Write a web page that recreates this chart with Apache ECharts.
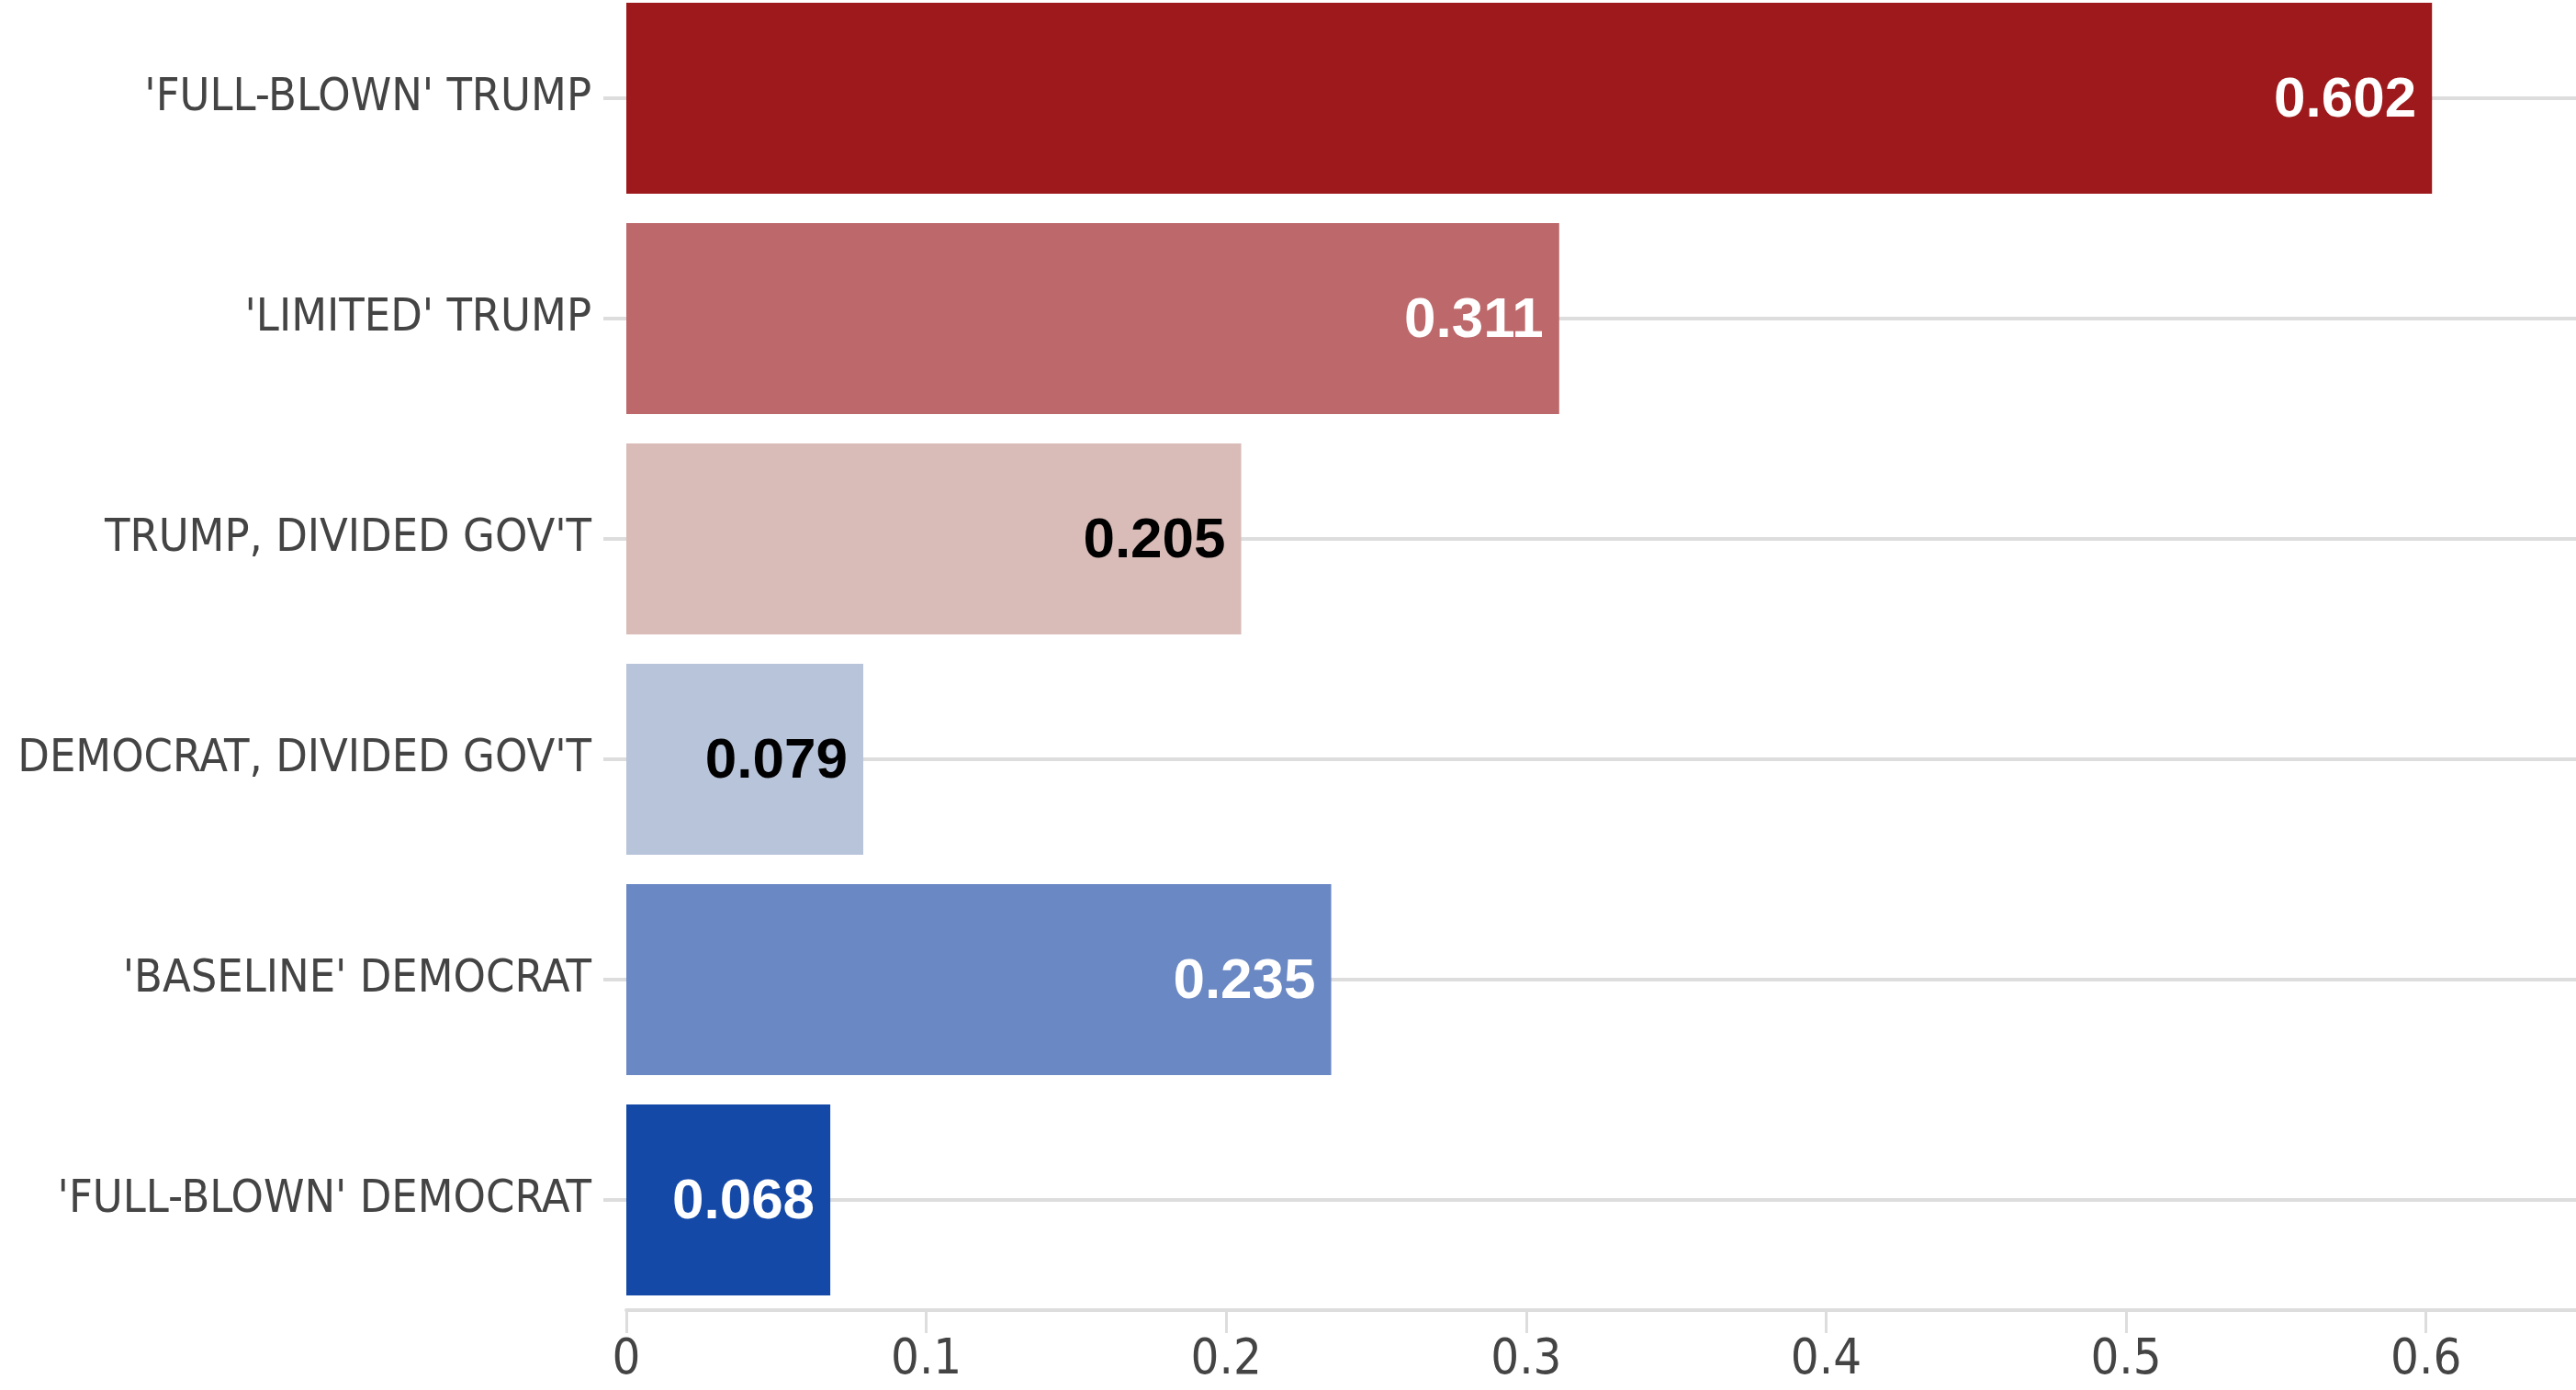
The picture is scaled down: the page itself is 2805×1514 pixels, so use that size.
<!DOCTYPE html>
<html>
<head>
<meta charset="utf-8">
<script src="https://cdn.jsdelivr.net/npm/echarts@6/dist/echarts.min.js"></script>
<style>
  html, body { margin: 0; padding: 0; background: #ffffff; }
  #chart { width: 2805px; height: 1514px; }
</style>
</head>
<body>
<div id="chart"></div>
<script>
// 类目（从上到下）
const categories = [
  "'FULL-BLOWN' TRUMP",
  "'LIMITED' TRUMP",
  "TRUMP, DIVIDED GOV'T",
  "DEMOCRAT, DIVIDED GOV'T",
  "'BASELINE' DEMOCRAT",
  "'FULL-BLOWN' DEMOCRAT"
]
const values = [0.602, 0.311, 0.205, 0.079, 0.235, 0.068]
const barColors = ['#9e191b', '#bd686a', '#d9bcb8', '#b8c4da', '#6a88c3', '#1449a8']
const labelColors = ['#ffffff', '#ffffff', '#000000', '#000000', '#ffffff', '#ffffff']
const xTicks = [0, 0.1, 0.2, 0.3, 0.4, 0.5, 0.6]

const condensed = "'Liberation Sans Narrow', 'DejaVu Sans Condensed', 'Roboto', sans-serif"

const myChart = echarts.init(document.getElementById('chart'))
myChart.setOption({
  backgroundColor: '#ffffff',
  animation: false,
  grid: {
    left: 682,
    right: 0,
    top: -13,
    bottom: 87,
    containLabel: false,
    outerBoundsMode: 'none'
  },
  xAxis: {
    type: 'value',
    min: xTicks[0],
    max: 0.65,
    interval: 0.1,
    axisLine: {
      show: true,
      lineStyle: { color: '#dddddd', width: 4 }
    },
    axisTick: {
      show: true,
      length: 25,
      lineStyle: { color: '#dddddd', width: 3 }
    },
    axisLabel: {
      showMaxLabel: false,
      margin: 28,
      fontFamily: condensed,
      fontSize: 54,
      color: '#444444'
    },
    splitLine: { show: false }
  },
  yAxis: {
    type: 'category',
    inverse: true,
    data: categories,
    axisLine: { show: false },
    axisTick: {
      show: true,
      alignWithLabel: true,
      length: 25,
      lineStyle: { color: '#dddddd', width: 4 }
    },
    axisLabel: {
      margin: 38,
      fontFamily: condensed,
      fontSize: 50,
      color: '#444444'
    },
    splitLine: {
      show: true,
      alignWithLabel: true, // 网格线放在类目中心
      lineStyle: { color: '#dddddd', width: 4 }
    }
  },
  series: [
    {
      type: 'bar',
      barCategoryGap: '13.4%',
      data: values.map((v, i) => ({
        value: v,
        itemStyle: { color: barColors[i] },
        label: { color: labelColors[i] }
      })),
      label: {
        show: true,
        position: 'insideRight',
        distance: 17,
        offset: [0, 3],
        fontFamily: "'Liberation Sans', Arial, sans-serif",
        fontWeight: 'bold',
        fontSize: 62,
        formatter: function (p) {
          return p.value.toFixed(3)
        }
      }
    }
  ]
})
</script>
</body>
</html>
